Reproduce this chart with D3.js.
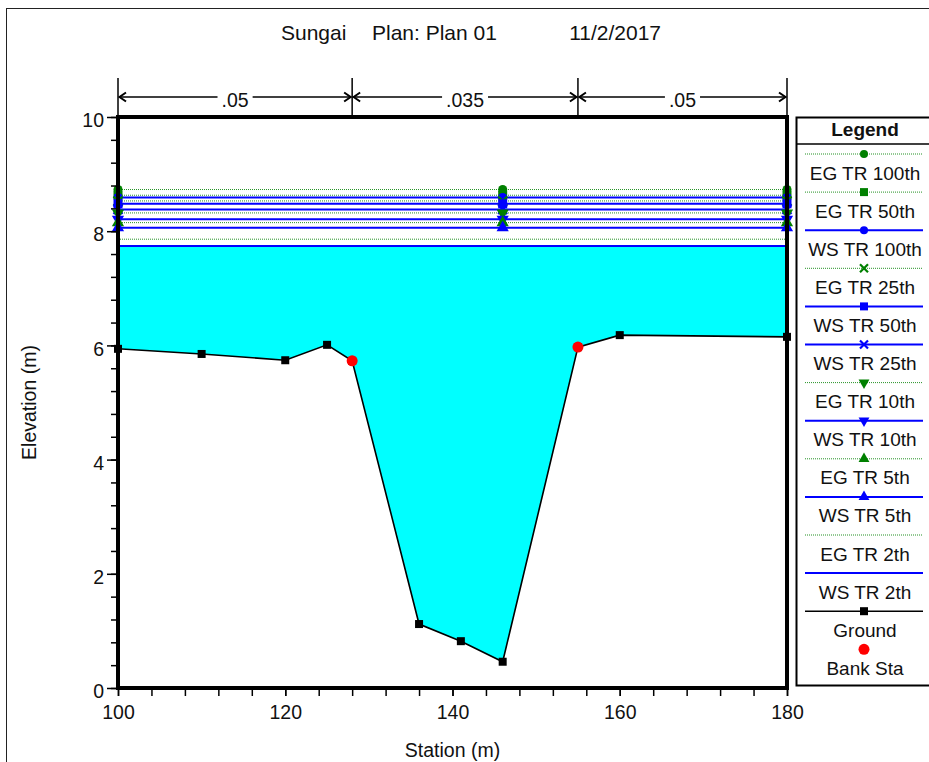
<!DOCTYPE html>
<html>
<head>
<meta charset="utf-8">
<script src="https://cdn.jsdelivr.net/npm/d3@7"></script>
<style>
  html, body { margin: 0; padding: 0; background: #fff; }
  svg { display: block; font-family: "Liberation Sans", Arial, sans-serif; }
</style>
</head>
<body>
<svg id="chart" width="929" height="762"></svg>
<script>
// Cross-section data: ground geometry, bank stations, water surface / energy grade profiles
const groundStation = [100, 110, 120, 125, 128, 136, 141, 146, 155, 160, 180];
const groundElev    = [5.94, 5.85, 5.74, 6.01, 5.73, 1.12, 0.82, 0.46, 5.97, 6.18, 6.15];

const bankStation = [128, 155];
const bankElev    = [5.73, 5.97];

const profileNames  = ["EG TR 100th", "EG TR 50th", "WS TR 100th", "EG TR 25th", "WS TR 50th", "WS TR 25th",
                       "EG TR 10th", "WS TR 10th", "EG TR 5th", "WS TR 5th", "EG TR 2th", "WS TR 2th"];
const profileElev   = [8.73, 8.63, 8.59, 8.53, 8.48, 8.38, 8.32, 8.21, 8.15, 8.06, 7.86, 7.74];
const profileKind   = ["EG", "EG", "WS", "EG", "WS", "WS", "EG", "WS", "EG", "WS", "EG", "WS"];
const profileMarker = ["circle", "square", "circle", "x", "square", "x", "down", "down", "up", "up", "none", "none"];
const markerStations = [100, 146, 180];

// Manning's n regions
const nBreaks = [100, 128, 155, 180];
const nValues = [".05", ".035", ".05"];

const xTicks = [100, 120, 140, 160, 180];
const yTicks = [0, 2, 4, 6, 8, 10];

const titleParts = ["Sungai", "Plan: Plan 01", "11/2/2017"];

const FONT = 19.5;
const svg = d3.select("#chart");

const x = d3.scaleLinear().domain([100, 180]).range([118, 787]);
const y = d3.scaleLinear().domain([0, 10]).range([688, 117]);

// outer frame
svg.append("rect").attr("x", 6.5).attr("y", 8.5).attr("width", 1000).attr("height", 1000)
  .attr("fill", "none").attr("stroke", "#222").attr("stroke-width", 1);

// title, three fields spaced apart
const titleX = [281, 372, 661];
const titleAnchor = ["start", "start", "end"];
titleParts.forEach((t, i) => {
  svg.append("text").attr("x", titleX[i]).attr("y", 40).attr("text-anchor", titleAnchor[i])
    .attr("font-size", 21).attr("fill", "#111").text(t);
});

// water fill for lowest water surface (WS TR 2th) down to ground
const wsFill = profileElev[profileElev.length - 1];
const fillPts = groundStation.map((s, i) => [s, Math.min(groundElev[i], wsFill)]);
const area = d3.area().x(d => x(d[0])).y0(y(wsFill)).y1(d => y(d[1]));
svg.append("path").datum(fillPts).attr("d", area).attr("fill", "#00FFFF");

// marker symbols
function markerPath(kind, size) {
  const s = size;
  switch (kind) {
    case "circle": return d3.symbol(d3.symbolCircle, s * s * 0.8)();
    case "square": return d3.symbol(d3.symbolSquare, s * s)();
    case "x": {
      const h = s / 2;
      return `M${-h},${-h}L${h},${h}M${-h},${h}L${h},${-h}`;
    }
    case "up": return d3.symbol(d3.symbolTriangle, s * s * 0.8)();
    case "down": return d3.symbol(d3.symbolTriangle, s * s * 0.8)();
    default: return "";
  }
}
function drawMarker(g, kind, color, cx, cy, size) {
  if (kind === "none") return;
  const p = g.append("path").attr("d", markerPath(kind, size))
    .attr("transform", `translate(${cx},${cy})` + (kind === "down" ? " rotate(180)" : ""));
  if (kind === "x") p.attr("fill", "none").attr("stroke", color).attr("stroke-width", 2.2);
  else p.attr("fill", color);
}

const green = "#008000", blue = "#0000FF";

// profile lines
const profG = svg.append("g");
profileElev.forEach((e, i) => {
  const eg = profileKind[i] === "EG";
  profG.append("line")
    .attr("x1", x(100)).attr("x2", x(180)).attr("y1", y(e)).attr("y2", y(e))
    .attr("stroke", eg ? green : blue)
    .attr("stroke-width", eg ? 1 : 2)
    .attr("stroke-dasharray", eg ? "1,1" : null)
    .attr("opacity", eg ? 0.85 : 1);
});
const markG = svg.append("g");
profileElev.forEach((e, i) => {
  const eg = profileKind[i] === "EG";
  markerStations.forEach(s => drawMarker(markG, profileMarker[i], eg ? green : blue, x(s), y(e), 9));
});

// ground line and points
const line = d3.line().x(d => x(d[0])).y(d => y(d[1]));
svg.append("path").datum(groundStation.map((s, i) => [s, groundElev[i]]))
  .attr("d", line).attr("fill", "none").attr("stroke", "#000").attr("stroke-width", 1.6);
svg.append("g").selectAll("rect").data(groundStation.map((s, i) => [s, groundElev[i]])).join("rect")
  .attr("x", d => x(d[0]) - 4).attr("y", d => y(d[1]) - 4).attr("width", 8).attr("height", 8).attr("fill", "#000");
svg.append("g").selectAll("circle").data(bankStation.map((s, i) => [s, bankElev[i]])).join("circle")
  .attr("cx", d => x(d[0])).attr("cy", d => y(d[1])).attr("r", 5.5).attr("fill", "#FF0000");

// axes
const yAxisMinor = d3.axisLeft(y).tickValues(d3.range(0, 10.01, 0.4)).tickSize(5).tickFormat("");
const yAxisMajor = d3.axisLeft(y).tickValues(yTicks).tickSize(9).tickPadding(3).tickFormat(d3.format("d"));
const xAxisMinor = d3.axisBottom(x).tickValues(d3.range(100, 180.01, 4)).tickSize(7).tickFormat("");
const xAxisMajor = d3.axisBottom(x).tickValues(xTicks).tickSize(7).tickPadding(9).tickFormat(d3.format("d"));

function styleAxis(g) {
  g.select(".domain").remove();
  g.selectAll(".tick line").attr("stroke", "#000").attr("stroke-width", 1.5);
  g.selectAll(".tick text").attr("font-size", FONT).attr("fill", "#111").attr("font-family", null);
}
svg.append("g").attr("transform", "translate(116,0)").call(yAxisMinor).call(styleAxis);
svg.append("g").attr("transform", "translate(116,0)").call(yAxisMajor).call(styleAxis)
  .selectAll(".tick text").attr("dy", "0.5em");
svg.append("g").attr("transform", "translate(0,689)").call(xAxisMinor).call(styleAxis);
svg.append("g").attr("transform", "translate(0,689)").call(xAxisMajor).call(styleAxis);

// heavy plot frame
svg.append("rect").attr("x", x(100)).attr("y", y(10)).attr("width", x(180) - x(100)).attr("height", y(0) - y(10))
  .attr("fill", "none").attr("stroke", "#000").attr("stroke-width", 4);

// axis titles
svg.append("text").attr("transform", `translate(36,${(y(0) + y(10)) / 2}) rotate(-90)`)
  .attr("text-anchor", "middle").attr("font-size", FONT).attr("fill", "#111").text("Elevation (m)");
svg.append("text").attr("x", (x(100) + x(180)) / 2).attr("y", 757)
  .attr("text-anchor", "middle").attr("font-size", FONT).attr("fill", "#111").text("Station (m)");

// Manning's n dimension bar
const nG = svg.append("g").attr("stroke", "#000");
const nY = 97;
nBreaks.forEach(b => {
  nG.append("line").attr("x1", x(b)).attr("x2", x(b)).attr("y1", 78).attr("y2", y(10))
    .attr("stroke-width", 1.5);
});
nValues.forEach((v, i) => {
  const x0 = x(nBreaks[i]), x1 = x(nBreaks[i + 1]), cx = (x0 + x1) / 2;
  const t = svg.append("text").attr("x", cx).attr("y", nY + 10).attr("text-anchor", "middle")
    .attr("font-size", FONT).attr("fill", "#111").text(v);
  const w = t.node().getComputedTextLength();
  nG.append("line").attr("x1", x0 + 1).attr("x2", cx - w / 2 - 4).attr("y1", nY).attr("y2", nY).attr("stroke-width", 1.5);
  nG.append("line").attr("x1", cx + w / 2 + 4).attr("x2", x1 - 1).attr("y1", nY).attr("y2", nY).attr("stroke-width", 1.5);
  nG.append("path").attr("d", `M${x0 + 8},${nY - 4.5}L${x0 + 1.5},${nY}L${x0 + 8},${nY + 4.5}`)
    .attr("fill", "none").attr("stroke-width", 2);
  nG.append("path").attr("d", `M${x1 - 8},${nY - 4.5}L${x1 - 1.5},${nY}L${x1 - 8},${nY + 4.5}`)
    .attr("fill", "none").attr("stroke-width", 2);
});

// legend
const lg = svg.append("g");
lg.append("rect").attr("x", 796.5).attr("y", 117.5).attr("width", 300).attr("height", 568)
  .attr("fill", "#fff").attr("stroke", "#000").attr("stroke-width", 2);
lg.append("text").attr("x", 865).attr("y", 136).attr("text-anchor", "middle")
  .attr("font-size", FONT - 0.5).attr("font-weight", "bold").attr("fill", "#111").text("Legend");
lg.append("line").attr("x1", 796).attr("x2", 929).attr("y1", 144).attr("y2", 144).attr("stroke", "#000").attr("stroke-width", 1.5);

const legX0 = 805, legX1 = 923, legCx = 864, legY0 = 154, legStep = 38.1;
const legendNames = profileNames.concat(["Ground", "Bank Sta"]);
legendNames.forEach((name, i) => {
  const ly = legY0 + i * legStep;
  if (i < profileNames.length) {
    const eg = profileKind[i] === "EG";
    lg.append("line").attr("x1", legX0).attr("x2", legX1).attr("y1", ly).attr("y2", ly)
      .attr("stroke", eg ? green : blue).attr("stroke-width", eg ? 1 : 2)
      .attr("stroke-dasharray", eg ? "1,1" : null).attr("opacity", eg ? 0.85 : 1);
    drawMarker(lg, profileMarker[i], eg ? green : blue, legCx, ly, 8);
  } else if (name === "Ground") {
    lg.append("line").attr("x1", legX0).attr("x2", legX1).attr("y1", ly).attr("y2", ly)
      .attr("stroke", "#000").attr("stroke-width", 1.6);
    lg.append("rect").attr("x", legCx - 4).attr("y", ly - 4).attr("width", 8).attr("height", 8).attr("fill", "#000");
  } else {
    lg.append("circle").attr("cx", legCx).attr("cy", ly).attr("r", 5.5).attr("fill", "#FF0000");
  }
  lg.append("text").attr("x", legCx + 1).attr("y", ly + 25.5).attr("text-anchor", "middle")
    .attr("font-size", FONT - 0.5).attr("fill", "#111").text(name);
});
</script>
</body>
</html>
